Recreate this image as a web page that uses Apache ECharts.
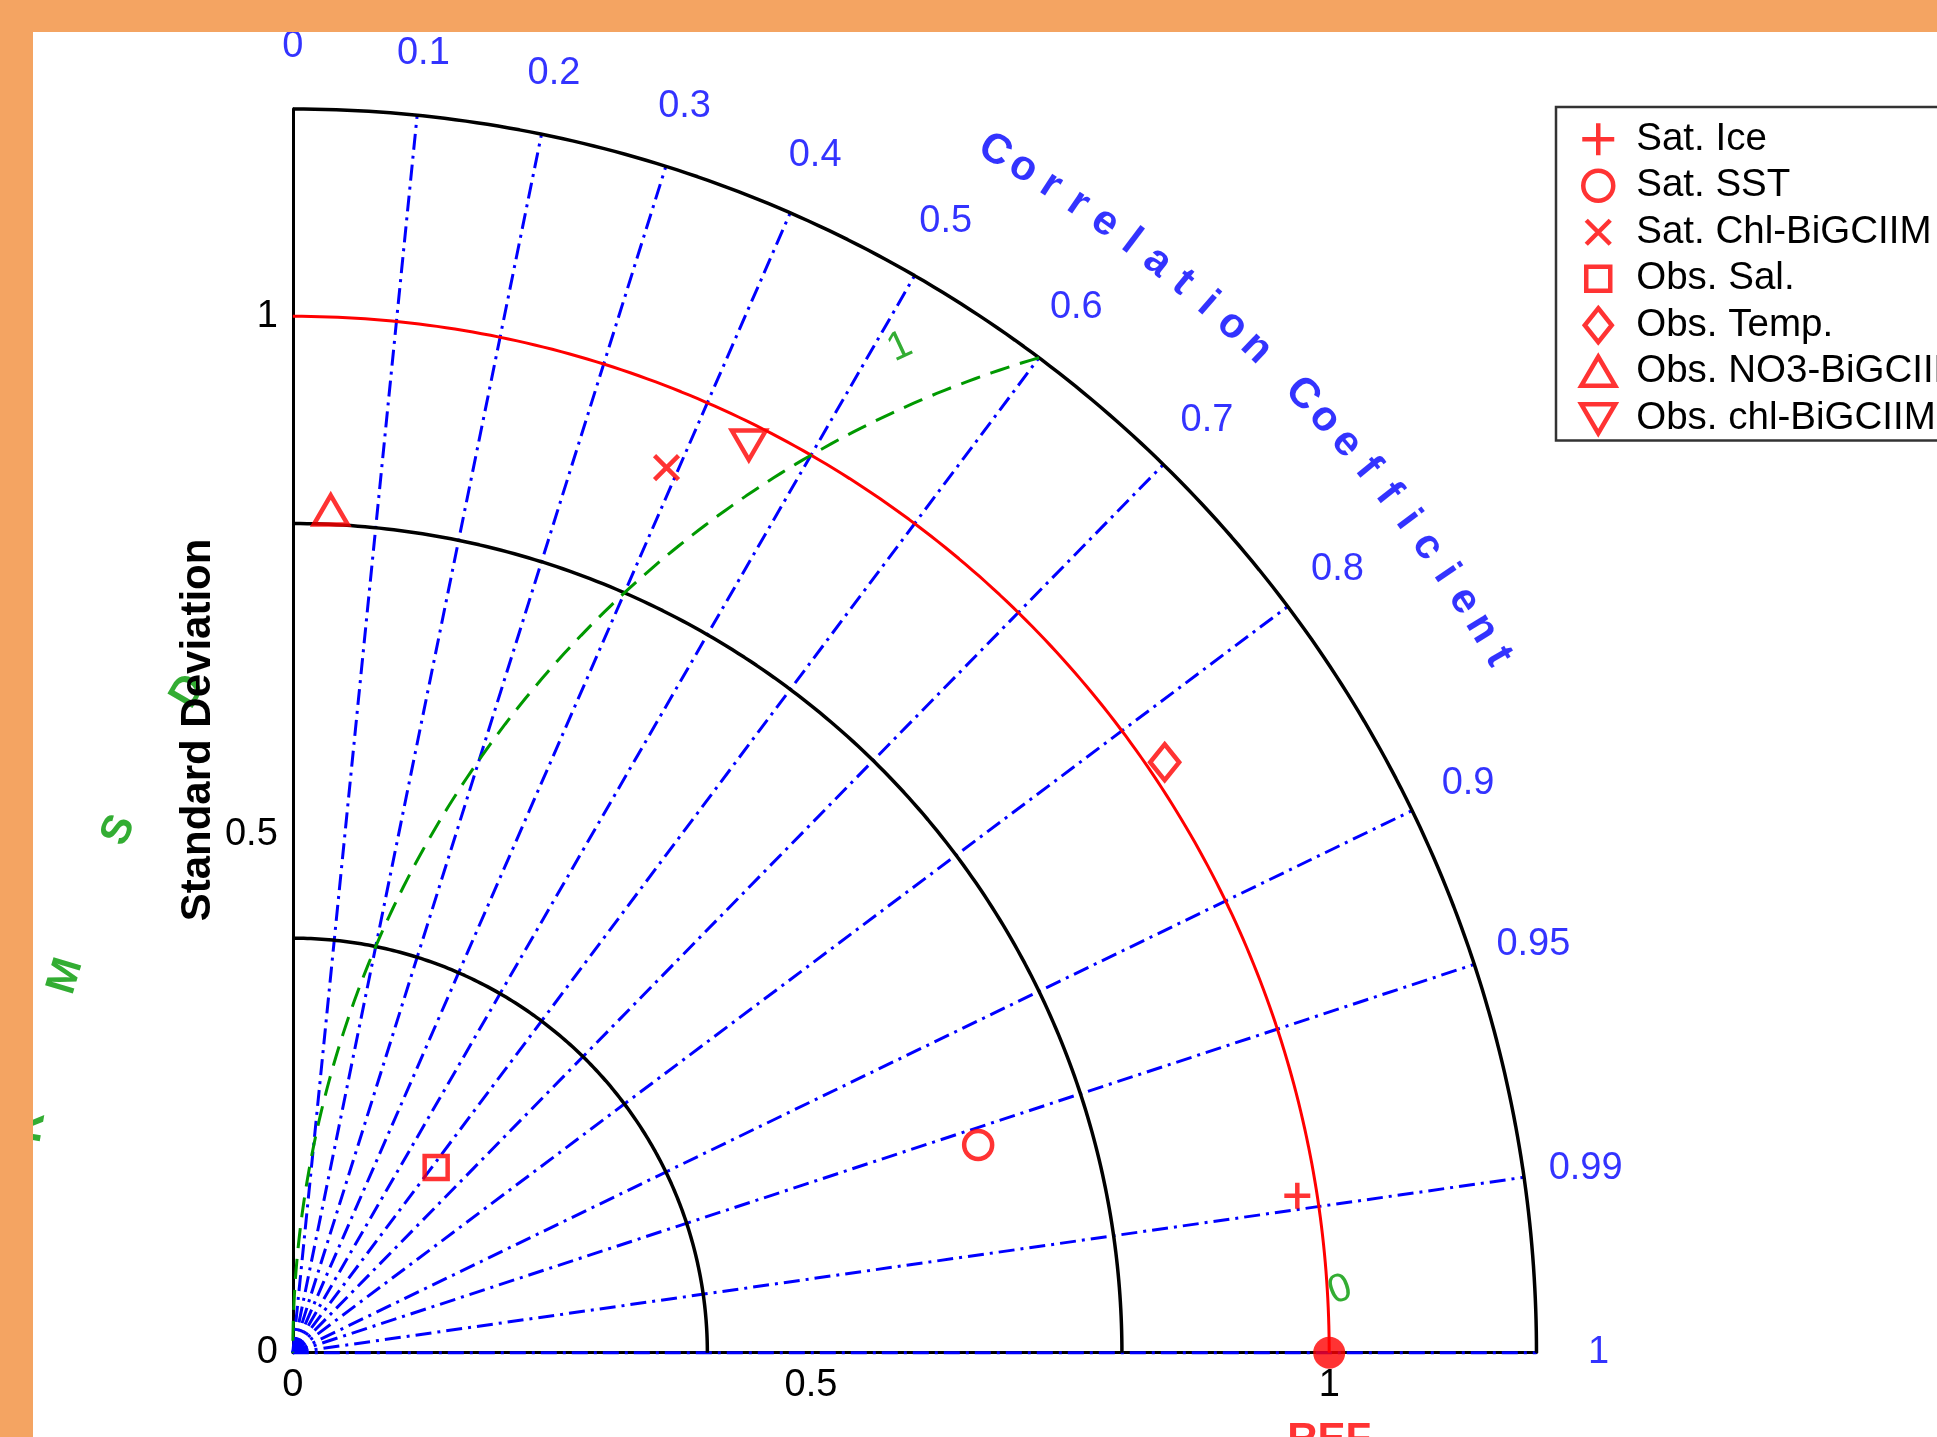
<!DOCTYPE html>
<html>
<head>
<meta charset="utf-8">
<script src="https://cdn.jsdelivr.net/npm/echarts@6/dist/echarts.min.js"></script>
<style>
html,body{margin:0;padding:0;background:#fff;}
#c{width:1937px;height:1437px;}
</style>
</head>
<body>
<div id="c"></div>
<script>
// ---------------- DATA ----------------
const modelNames = ['Sat. Ice', 'Sat. SST', 'Sat. Chl-BiGCIIM', 'Obs. Sal.', 'Obs. Temp.', 'Obs. NO3-BiGCIIM', 'Obs. chl-BiGCIIM'];
const modelStd  = [0.981, 0.691, 0.927, 0.226, 1.016, 0.814, 0.980];
const modelCorr = [0.988, 0.957, 0.389, 0.612, 0.828, 0.045, 0.449];
const refStd = 1.0;
const refCorr = 1.0;
const refLabel = 'REF';
const stdArcsBlack = [0.4, 0.8, 1.2];
const stdMax = 1.2;
const stdTicks = [0, 0.5, 1];
const stdTickLabels = ['0', '0.5', '1'];
const corrLines = [0.1, 0.2, 0.3, 0.4, 0.5, 0.6, 0.7, 0.8, 0.9, 0.95, 0.99, 1];
const corrTicks = [0, 0.1, 0.2, 0.3, 0.4, 0.5, 0.6, 0.7, 0.8, 0.9, 0.95, 0.99, 1];
const corrTickLabels = ['0', '0.1', '0.2', '0.3', '0.4', '0.5', '0.6', '0.7', '0.8', '0.9', '0.95', '0.99', '1'];
const rmsLevels = [1];
const rmsContourLabels = ['1', '0'];
const corrTitle = 'Correlation Coefficient';
const rmsTitle = 'RMSD';
const stdTitle = 'Standard Deviation';

// ---------------- LAYOUT / STYLE ----------------
const FONT = '"Liberation Sans", Arial, Helvetica, sans-serif';
const BLUE = '#0000ff', RED = '#ff0000', GREEN = '#009900';
const U = 1036.4;                 // px per std unit
const OX = 292.8, OY = 1352.7;    // origin in px
const corrLabelR = 1.26;
const corrTitleR = 1.343, corrTitleStart = 59.7, corrTitleStep = 1.35;
const rmsTitleR = 1.272, rmsTitleStart = 149.9, rmsTitleStep = 6.75;
// contour label placements (x, y in std units) and rotation
const rmsLabelPlace = [[0.5858, 0.9704, 25], [1.0105, 0.0605, 20]];

const markerDefs = [
  {symbol: 'path://M0,50L100,50M50,0L50,100', size: 26},
  {symbol: 'circle', size: 28},
  {symbol: 'path://M0,0L100,100M100,0L0,100', size: 24},
  {symbol: 'rect', size: 23},
  {symbol: 'path://M50,0L100,62L50,124L0,62Z', size: 36},
  {symbol: 'path://M50,0L100,86L0,86Z', size: 34},
  {symbol: 'path://M0,0L100,0L50,86Z', size: 34}
];
const legendIcons = [
  'path://M0,0M38,38M3,19L35,19M19,3L19,35',
  'path://M0,0M38,38M4,19A15,15 0 1 1 34,19A15,15 0 1 1 4,19Z',
  'path://M0,0M38,38M7,7L31,31M31,7L7,31',
  'path://M0,0M38,38M7,7L31,7L31,31L7,31Z',
  'path://M0,0M38,38M19,2L32.5,19L19,36L5.5,19Z',
  'path://M0,0M38,38M19,4L36,33L2,33Z',
  'path://M0,0M38,38M2,5L36,5L19,34Z'
];

// ---------------- HELPERS ----------------
const toXY = (s, c) => [s * c, s * Math.sqrt(Math.max(0, 1 - c * c))];
const deg = Math.PI / 180;
function arc(cx, cy, r, a0, a1, n) {
  const pts = [];
  for (let i = 0; i <= n; i++) {
    const a = (a0 + (a1 - a0) * i / n) * deg;
    pts.push([cx + r * Math.cos(a), cy + r * Math.sin(a)]);
  }
  return pts;
}

const series = [];

// correlation rays
corrLines.forEach(c => {
  series.push({
    type: 'line', data: [[0, 0], toXY(stdMax, c)], showSymbol: false, symbol: 'none',
    silent: true, clip: false, z: 2,
    lineStyle: {color: BLUE, width: 3, type: [16, 6, 3, 6]}
  });
});
// black std arcs
stdArcsBlack.forEach(s => {
  series.push({
    type: 'line', data: arc(0, 0, s, 0, 90, 180), showSymbol: false, symbol: 'none',
    silent: true, clip: false, z: 3,
    lineStyle: {color: '#000', width: 3.5, type: 'solid'}
  });
});
// reference std arc (red)
series.push({
  type: 'line', data: arc(0, 0, refStd, 0, 90, 180), showSymbol: false, symbol: 'none',
  silent: true, clip: false, z: 3,
  lineStyle: {color: RED, width: 3}
});
// RMS contours (green dashed), centred on REF, clipped by the outer std arc
rmsLevels.forEach(r => {
  const cx = refStd;
  const xi = (stdMax * stdMax - r * r + cx * cx) / (2 * cx);
  const yi = Math.sqrt(Math.max(0, stdMax * stdMax - xi * xi));
  const a0 = Math.atan2(yi, xi - cx) / deg;
  series.push({
    type: 'line', data: arc(cx, 0, r, a0, 180, 160), showSymbol: false, symbol: 'none',
    silent: true, clip: false, z: 3,
    lineStyle: {color: GREEN, width: 3, type: [20, 11]}
  });
});

// models
modelNames.forEach((name, i) => {
  series.push({
    type: 'scatter', name: name, data: [toXY(modelStd[i], modelCorr[i])],
    symbol: markerDefs[i].symbol, symbolSize: markerDefs[i].size, symbolKeepAspect: true,
    itemStyle: {color: 'transparent', borderColor: RED, borderWidth: 4.5},
    clip: false, z: 6
  });
});

// REF point
series.push({
  type: 'scatter', data: [toXY(refStd, refCorr)], symbol: 'circle', symbolSize: 32,
  itemStyle: {color: RED}, clip: false, z: 7, silent: true,
  label: {show: true, formatter: refLabel, position: 'inside', offset: [0, 88],
    color: RED, fontSize: 42, fontWeight: 'bold', fontFamily: FONT}
});

function textSeries(items, style) {
  return {
    type: 'scatter', data: items, symbol: 'circle', symbolSize: 1,
    itemStyle: {color: 'transparent'}, clip: false, silent: true, z: 8,
    label: Object.assign({show: true, position: 'inside', fontFamily: FONT, fontSize: 38}, style)
  };
}
// correlation tick labels
series.push(textSeries(corrTicks.map((c, i) => ({
  value: toXY(corrLabelR, c), label: {formatter: corrTickLabels[i]}
})), {color: BLUE}));
// Correlation Coefficient title along the arc
series.push(textSeries(corrTitle.split('').map((ch, i) => {
  const a = corrTitleStart - corrTitleStep * i;
  return {value: [corrTitleR * Math.cos(a * deg), corrTitleR * Math.sin(a * deg)],
          label: {formatter: ch === ' ' ? '' : ch, rotate: a - 90}};
}), {color: BLUE, fontWeight: 'bold', fontSize: 42}));
// RMSD title along arc around REF
series.push(textSeries(rmsTitle.split('').map((ch, i) => {
  const a = rmsTitleStart + rmsTitleStep * (rmsTitle.length - 1 - i);
  return {value: [refStd + rmsTitleR * Math.cos(a * deg), rmsTitleR * Math.sin(a * deg)],
          label: {formatter: ch, rotate: a - 90}};
}), {color: GREEN, fontWeight: 'bold', fontSize: 42}));
// RMS contour labels
series.push(textSeries(rmsContourLabels.map((t, i) => ({
  value: [rmsLabelPlace[i][0], rmsLabelPlace[i][1]], label: {formatter: t, rotate: rmsLabelPlace[i][2]}
})), {color: GREEN, fontSize: 40}));

const stdFmt = v => {
  const k = stdTicks.findIndex(t => Math.abs(t - v) < 1e-9);
  return k >= 0 ? stdTickLabels[k] : '';
};

const option = {
  animation: false,
  backgroundColor: '#ffffff',
  grid: {left: OX, top: OY - stdMax * U, width: stdMax * U, height: stdMax * U,
         containLabel: false, outerBoundsMode: 'none'},
  xAxis: {
    type: 'value', min: 0, max: stdMax, interval: 0.5,
    axisLine: {show: true, onZero: false, lineStyle: {color: '#000', width: 3}},
    axisTick: {show: false}, splitLine: {show: false},
    axisLabel: {fontSize: 38, color: '#000', fontFamily: FONT, margin: 14, formatter: stdFmt}
  },
  yAxis: {
    type: 'value', min: 0, max: stdMax, interval: 0.5,
    axisLine: {show: true, onZero: false, lineStyle: {color: '#000', width: 3}},
    axisTick: {show: false}, splitLine: {show: false},
    axisLabel: {fontSize: 38, color: '#000', fontFamily: FONT, margin: 15, formatter: stdFmt}
  },
  legend: {
    orient: 'vertical', left: 1556, top: 107,
    itemWidth: 66, itemHeight: 38, itemGap: 4,
    padding: [11, 80, 1, 21],
    borderColor: '#333', borderWidth: 2.5, backgroundColor: '#fff',
    selectedMode: false,
    data: modelNames.map((n, i) => ({name: n, icon: legendIcons[i]})),
    itemStyle: {borderWidth: 4.5},
    textStyle: {fontSize: 38.5, color: '#000', fontFamily: FONT, lineHeight: 38}
  },
  graphic: [
    {type: 'text', x: 198, y: 730, rotation: Math.PI / 2, z: 50,
     style: {text: stdTitle, fill: '#000', font: 'bold 42px ' + FONT,
             align: 'center', verticalAlign: 'middle', textAlign: 'center', textVerticalAlign: 'middle'}},
    {type: 'rect', z: 100, shape: {x: 0, y: 0, width: 33, height: 1437}, style: {fill: '#F4A462'}},
    {type: 'rect', z: 100, shape: {x: 0, y: 0, width: 1937, height: 32}, style: {fill: '#F4A462'}}
  ],
  series: series
};

const chart = echarts.init(document.getElementById('c'), null, {renderer: 'canvas'});
chart.setOption(option);
</script>
</body>
</html>
